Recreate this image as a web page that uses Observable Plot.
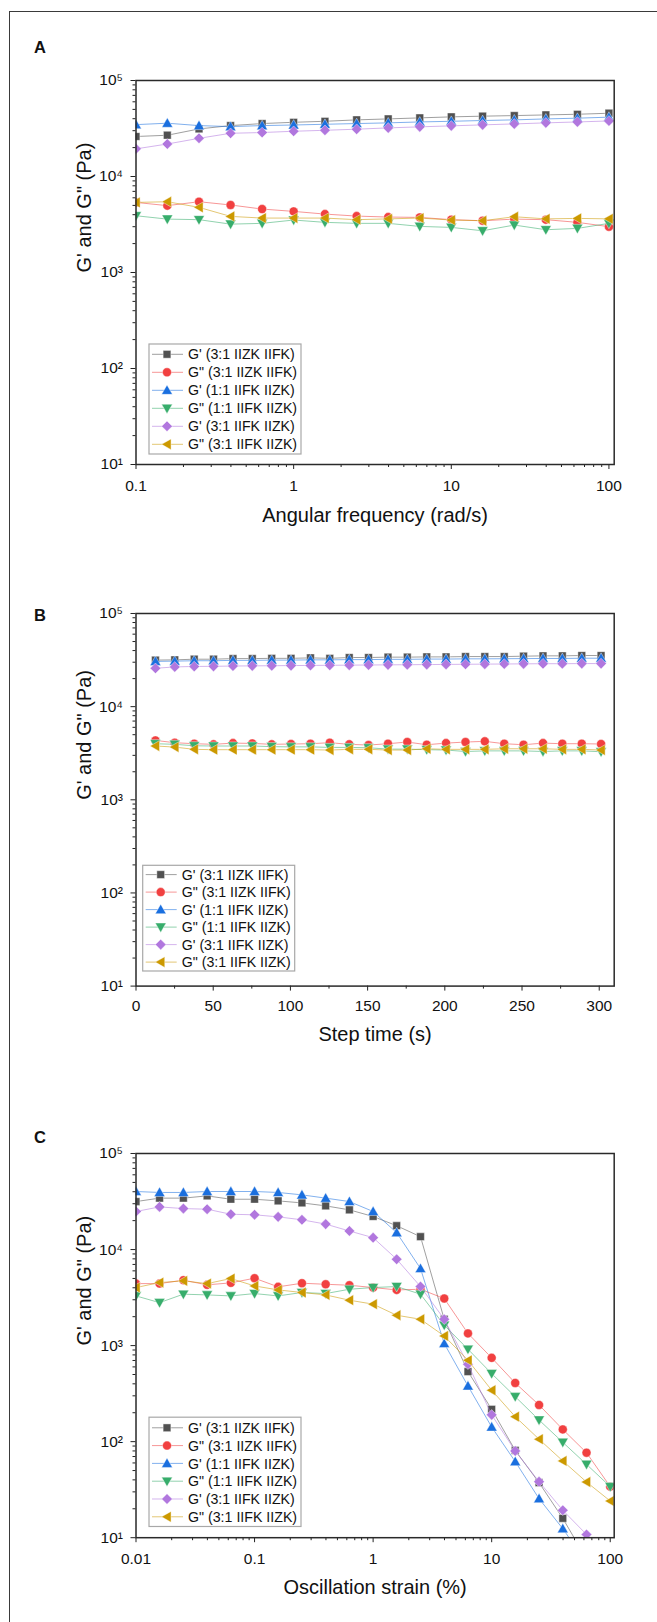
<!DOCTYPE html>
<html>
<head>
<meta charset="utf-8">
<script src="https://cdn.jsdelivr.net/npm/d3@7"></script>
<script src="https://cdn.jsdelivr.net/npm/@observablehq/plot@0.6"></script>
<style>
  html, body { margin: 0; padding: 0; background: #fff; }
  #fig { position: relative; width: 657px; height: 1622px; overflow: hidden; font-family: "Liberation Sans", Arial, sans-serif; }
  #frame { position: absolute; left: 9px; top: 11px; width: 800px; height: 1800px; border-left: 1.5px solid #3a3a3a; border-top: 1.5px solid #3a3a3a; }
  .plabel { position: absolute; left: 34px; font-weight: bold; font-size: 16.5px; line-height: 1; color: #111; }
  .pwrap { position: absolute; left: 0; }
</style>
</head>
<body>
<div id="fig">
  <div id="frame"></div>
  <div class="plabel" style="top:39px">A</div>
  <div class="plabel" style="top:607px">B</div>
  <div class="plabel" style="top:1129px">C</div>
  <div class="pwrap" id="pa"></div>
  <div class="pwrap" id="pb"></div>
  <div class="pwrap" id="pc"></div>
</div>
<script>
// ---------- shared ----------
const seriesNames = ["G' (3:1 IIZK IIFK)", 'G" (3:1 IIZK IIFK)', "G' (1:1 IIFK IIZK)", 'G" (1:1 IIFK IIZK)', "G' (3:1 IIFK IIZK)", 'G" (3:1 IIFK IIZK)'];
const seriesColors = ["#515151", "#F14040", "#1A6FDF", "#37AD6B", "#B177DE", "#CC9900"];
const yTicks = [10, 100, 1000, 10000, 100000];
const yTickLabels = ["10\u00B9", "10\u00B2", "10\u00B3", "10\u2074", "10\u2075"];
const yTitle = 'G\' and G" (Pa)';
const FONT = "'Liberation Sans', Arial, sans-serif";

// ---------- panel A: frequency sweep ----------
const aFreq = [0.1, 0.158, 0.251, 0.398, 0.631, 1, 1.58, 2.51, 3.98, 6.31, 10, 15.8, 25.1, 39.8, 63.1, 100];
const aGp_ZK_FK = [26100, 26900, 31300, 33900, 35600, 36700, 37600, 38900, 39800, 40800, 41800, 42500, 43100, 43800, 44500, 45600];
const aGpp_ZK_FK = [5370, 4970, 5460, 5050, 4580, 4330, 4060, 3870, 3780, 3750, 3550, 3460, 3600, 3550, 3330, 3000];
const aGp_11 = [34700, 35900, 33900, 33100, 33900, 34400, 35000, 35600, 36200, 37000, 37600, 38300, 38900, 39800, 40500, 41500];
const aGpp_11 = [3900, 3600, 3550, 3190, 3250, 3520, 3330, 3250, 3250, 3020, 2950, 2720, 3120, 2790, 2880, 3250];
const aGp_FK_ZK = [19400, 21800, 25000, 28200, 28700, 29600, 30300, 31100, 32100, 32900, 33700, 34500, 35300, 36200, 37000, 37900];
const aGpp_FK_ZK = [5370, 5460, 4770, 3840, 3690, 3690, 3690, 3550, 3620, 3690, 3520, 3460, 3810, 3620, 3660, 3620];
const aXTicks = [0.1, 1, 10, 100];
const aXTickLabels = ["0.1", "1", "10", "100"];
const aXTitle = "Angular frequency (rad/s)";

// ---------- panel B: time sweep ----------
const bTime = [12.6, 25.1, 37.7, 50.2, 62.8, 75.3, 87.9, 100.4, 113, 125.5, 138.1, 150.6, 163.2, 175.7, 188.3, 200.8, 213.4, 225.9, 238.5, 251, 263.6, 276.1, 288.7, 301.2];
const bGp_ZK_FK = [31600, 31800, 32300, 32300, 32800, 32800, 33000, 33000, 33400, 33000, 33700, 33700, 34000, 34000, 34200, 34200, 34500, 34500, 34500, 34800, 35100, 35100, 35400, 35400];
const bGpp_ZK_FK = [4340, 4100, 4000, 3940, 4060, 4030, 3940, 3970, 4000, 4100, 3940, 3870, 4000, 4170, 3900, 4060, 4170, 4240, 4000, 3900, 4060, 4000, 4000, 3970];
const bGp_11 = [30600, 30800, 31100, 31100, 31400, 31400, 31600, 31600, 31800, 31800, 32000, 32000, 32200, 32200, 32400, 32400, 32600, 32600, 32700, 32800, 32900, 32900, 33100, 33100];
const bGpp_11 = [4000, 3940, 3800, 3780, 3780, 3780, 3720, 3700, 3700, 3650, 3650, 3620, 3500, 3500, 3450, 3420, 3300, 3350, 3350, 3350, 3300, 3350, 3350, 3280];
const bGp_FK_ZK = [25800, 26700, 27000, 27100, 27300, 27400, 27500, 27600, 27700, 27800, 27900, 28000, 28100, 28200, 28300, 28400, 28500, 28600, 28700, 28800, 28900, 28900, 29000, 29000];
const bGpp_FK_ZK = [3780, 3680, 3480, 3450, 3450, 3450, 3450, 3450, 3450, 3420, 3480, 3480, 3420, 3420, 3530, 3480, 3480, 3480, 3530, 3530, 3530, 3480, 3480, 3420];
const bXTicks = [0, 50, 100, 150, 200, 250, 300];
const bXTickLabels = ["0", "50", "100", "150", "200", "250", "300"];
const bXMinor = [25, 75, 125, 175, 225, 275];
const bXTitle = "Step time (s)";

// ---------- panel C: amplitude sweep ----------
const cStrain = [0.01, 0.0158, 0.0251, 0.0398, 0.0631, 0.1, 0.158, 0.251, 0.398, 0.631, 1, 1.58, 2.51, 3.98, 6.31, 10, 15.8, 25.1, 39.8, 63.1, 100];
const cGp_ZK_FK = [31600, 34300, 34300, 36200, 33400, 33400, 32100, 30600, 28500, 25900, 22100, 17700, 13600, 1880, 536, 217, 81, 37.4, 15.9, 6];
const cGpp_ZK_FK = [4420, 4420, 4800, 4290, 4500, 5030, 4090, 4460, 4350, 4250, 4020, 3800, 3860, 3090, 1340, 745, 408, 241, 134, 76.7, 34];
const cGp_11 = [40200, 39300, 39300, 40200, 40200, 40200, 39300, 37100, 34300, 31600, 24900, 15000, 6340, 1050, 380, 142, 62, 25.5, 12.4, 5.5];
const cGpp_11 = [3290, 2800, 3430, 3370, 3290, 3480, 3290, 3570, 3480, 3860, 4020, 4120, 3430, 1630, 917, 511, 294, 168, 98.4, 58, 34];
const cGp_FK_ZK = [24900, 27800, 26700, 26300, 23300, 23000, 21900, 20400, 18400, 15600, 13300, 7930, 4120, 1880, 640, 190, 80, 38.3, 19.3, 10.8, 7];
const cGpp_FK_ZK = [4020, 4530, 4720, 4420, 4990, 4180, 3800, 3570, 3370, 2970, 2700, 2070, 1880, 1260, 703, 343, 182, 106, 63, 38, 24.1];
const cXTicks = [0.01, 0.1, 1, 10, 100];
const cXTickLabels = ["0.01", "0.1", "1", "10", "100"];
const cXTitle = "Oscillation strain (%)";

// ---------- symbols ----------
function mkSym(fn) { return { draw(ctx, size) { fn(ctx, Math.sqrt(size / Math.PI)); } }; }
const symbols = [
  mkSym((c, r) => { const h = r * 0.86; c.rect(-h, -h, 2 * h, 2 * h); }),
  mkSym((c, r) => { c.moveTo(r, 0); c.arc(0, 0, r, 0, 2 * Math.PI); }),
  mkSym((c, r) => { c.moveTo(0, -1.2 * r); c.lineTo(1.2 * r, 0.9 * r); c.lineTo(-1.2 * r, 0.9 * r); c.closePath(); }),
  mkSym((c, r) => { c.moveTo(0, 1.2 * r); c.lineTo(1.2 * r, -0.9 * r); c.lineTo(-1.2 * r, -0.9 * r); c.closePath(); }),
  mkSym((c, r) => { const d = 1.18 * r; c.moveTo(0, -d); c.lineTo(d, 0); c.lineTo(0, d); c.lineTo(-d, 0); c.closePath(); }),
  mkSym((c, r) => { c.moveTo(-1.2 * r, 0); c.lineTo(0.9 * r, -1.2 * r); c.lineTo(0.9 * r, 1.2 * r); c.closePath(); })
];
const R = 4.5;

function minorDecades(lo, hi) {
  const out = [];
  for (let e = lo; e < hi; e++) for (let m = 2; m <= 9; m++) out.push(m * Math.pow(10, e));
  return out;
}

function legendMark(L) {
  return (index, scales, values, dims) => {
    const g = d3.create("svg:g").attr("class", "legend");
    const x0 = dims.marginLeft + L.dx;
    const y1 = dims.height - dims.marginBottom - L.bottom;
    const y0 = y1 - L.h;
    g.append("rect").attr("x", x0).attr("y", y0).attr("width", L.w).attr("height", L.h)
      .attr("fill", "white").attr("stroke", "#a8a8a8").attr("stroke-width", 1.2);
    seriesNames.forEach((name, i) => {
      const cy = y0 + L.first + L.row * i;
      g.append("line").attr("x1", x0 + 3).attr("x2", x0 + 34).attr("y1", cy).attr("y2", cy)
        .attr("stroke", seriesColors[i]).attr("stroke-opacity", 0.55).attr("stroke-width", 1);
      g.append("path").attr("d", d3.symbol(symbols[i], Math.PI * R * R)())
        .attr("transform", `translate(${x0 + 18},${cy})`)
        .attr("fill", seriesColors[i]).attr("stroke", "white").attr("stroke-opacity", 0.6).attr("stroke-width", 0.7);
      g.append("text").attr("x", x0 + 39).attr("y", cy).attr("dy", "0.36em")
        .attr("text-anchor", "start").attr("font-family", FONT)
        .attr("font-size", 14.2).attr("fill", "#111").text(name);
    });
    return g.node();
  };
}

function makePanel(cfg) {
  const rows = cfg.series.map(arr => arr.map((v, j) => ({ x: cfg.xs[j], y: v })));
  const marks = [];
  rows.forEach((r, i) => {
    marks.push(Plot.line(r, { x: "x", y: "y", stroke: seriesColors[i], strokeWidth: 1, strokeOpacity: 0.55, clip: true }));
    marks.push(Plot.dot(r, { x: "x", y: "y", fill: seriesColors[i], symbol: symbols[i], r: R, stroke: "white", strokeOpacity: 0.6, strokeWidth: 0.7, clip: true }));
  });
  const tickFont = { fontSize: 15.5, fontFamily: FONT, fill: "#111" };
  marks.push(Plot.axisY({ ticks: yTicks, tickFormat: d => yTickLabels[yTicks.indexOf(d)], tickSize: 5, tickPadding: 8, label: null, ...tickFont }));
  marks.push(Plot.axisY({ ticks: minorDecades(1, 5), tickFormat: () => "", tickSize: 3, label: null }));
  marks.push(Plot.axisX({ ticks: cfg.xTicks, tickFormat: d => cfg.xLabels[cfg.xTicks.indexOf(d)], tickSize: 5, tickPadding: cfg.xPad, label: null, ...tickFont }));
  marks.push(Plot.axisX({ ticks: cfg.xMinor, tickFormat: () => "", tickSize: 3, label: null }));
  marks.push(Plot.frame({ stroke: "#2a2a2a", strokeWidth: 1.5 }));
  marks.push(Plot.text([cfg.xTitle], { text: d => d, frameAnchor: "bottom", dy: cfg.xTitleDy, fontSize: 20, fontFamily: FONT, fill: "#111" }));
  marks.push(Plot.text([yTitle], { text: d => d, frameAnchor: "left", dx: -51, rotate: -90, fontSize: 20, fontFamily: FONT, fill: "#111" }));
  marks.push(legendMark(cfg.legend));
  const svg = Plot.plot({
    width: 657,
    height: cfg.height,
    marginLeft: 135.5, marginRight: 43.3, marginTop: 20, marginBottom: 70,
    style: { fontFamily: FONT, fontSize: "15.5px", color: "#222", background: "transparent", overflow: "visible" },
    x: { type: cfg.xType, domain: cfg.xDomain },
    y: { type: "log", domain: [10, 100000] },
    marks
  });
  const host = document.getElementById(cfg.id);
  host.style.top = cfg.top + "px";
  host.appendChild(svg);
}

makePanel({
  id: "pa", top: 60, height: 474, xs: aFreq, xType: "log", xDomain: [0.1, 108],
  series: [aGp_ZK_FK, aGpp_ZK_FK, aGp_11, aGpp_11, aGp_FK_ZK, aGpp_FK_ZK],
  xTicks: aXTicks, xLabels: aXTickLabels, xMinor: minorDecades(-1, 2), xTitle: aXTitle, xTitleDy: 57.5, xPad: 10,
  legend: { dx: 13.5, bottom: 10, w: 152, h: 110, row: 18, first: 10.3 }
});
makePanel({
  id: "pb", top: 592.7, height: 462.6, xs: bTime, xType: "linear", xDomain: [0, 309.7],
  series: [bGp_ZK_FK, bGpp_ZK_FK, bGp_11, bGpp_11, bGp_FK_ZK, bGpp_FK_ZK],
  xTicks: bXTicks, xLabels: bXTickLabels, xMinor: bXMinor, xTitle: bXTitle, xTitleDy: 54.5, xPad: 8.7,
  legend: { dx: 7.2, bottom: 14.6, w: 152, h: 105.7, row: 17.5, first: 9.3 }
});
makePanel({
  id: "pc", top: 1132.5, height: 474.2, xs: cStrain, xType: "log", xDomain: [0.01, 108],
  series: [cGp_ZK_FK, cGpp_ZK_FK, cGp_11, cGpp_11, cGp_FK_ZK, cGpp_FK_ZK],
  xTicks: cXTicks, xLabels: cXTickLabels, xMinor: minorDecades(-2, 2), xTitle: cXTitle, xTitleDy: 56.7, xPad: 10.6,
  legend: { dx: 13.5, bottom: 10.7, w: 152, h: 109.3, row: 17.8, first: 10.6 }
});
</script>
</body>
</html>
